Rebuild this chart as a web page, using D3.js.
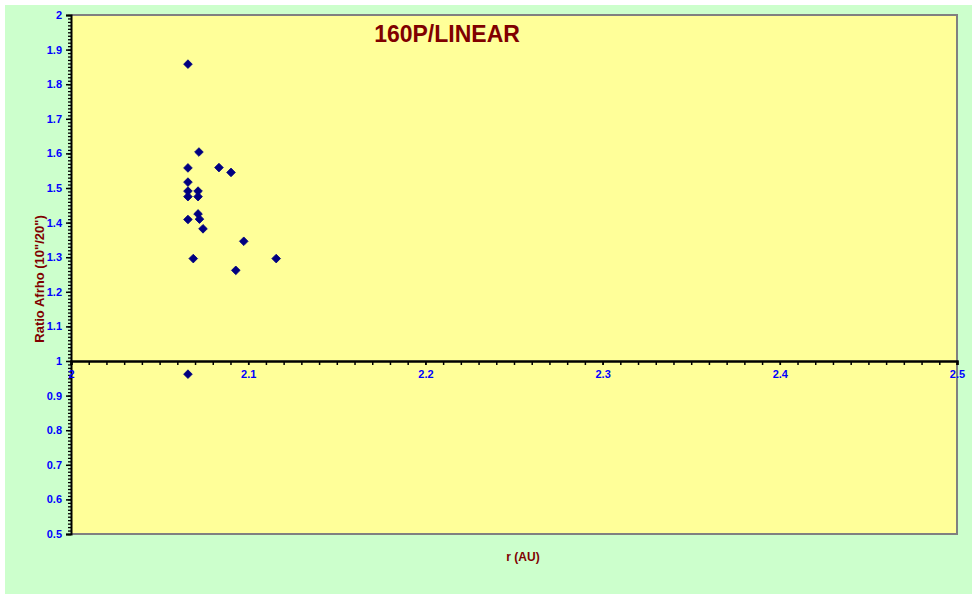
<!DOCTYPE html>
<html><head><meta charset="utf-8">
<script src="https://cdn.jsdelivr.net/npm/d3@7"></script>
<style>body{margin:0;background:#fff}svg{display:block}</style>
</head><body>
<script>
const rValues = [2.066, 2.0722, 2.066, 2.0835, 2.0903, 2.066, 2.066, 2.0717, 2.066, 2.0717, 2.0717, 2.0725, 2.066, 2.0745, 2.0975, 2.069, 2.1158, 2.093, 2.066];
const ratioValues = [1.858, 1.604, 1.558, 1.559, 1.545, 1.517, 1.491, 1.491, 1.475, 1.475, 1.425, 1.410, 1.409, 1.382, 1.346, 1.296, 1.296, 1.262, 0.962];
const xTicks = [2, 2.1, 2.2, 2.3, 2.4, 2.5];
const yTicks = [0.5, 0.6, 0.7, 0.8, 0.9, 1, 1.1, 1.2, 1.3, 1.4, 1.5, 1.6, 1.7, 1.8, 1.9, 2];
const title = "160P/LINEAR";
const xTitle = "r (AU)";
const yTitle = "Ratio Afrho (10\"/20\")";

const W = 976, H = 599;
const svg = d3.select("body").append("svg").attr("width", W).attr("height", H);
svg.append("rect").attr("x", 5).attr("y", 5).attr("width", 967).attr("height", 589).attr("fill", "#ccffcc");

const x = d3.scaleLinear().domain([2, 2.5]).range([71, 957]);
const y = d3.scaleLinear().domain([0.5, 2]).range([534, 15]);

svg.append("rect").attr("x", x(2)).attr("y", y(2)).attr("width", x(2.5) - x(2)).attr("height", y(0.5) - y(2)).attr("fill", "#ffff99");
svg.append("path").attr("d", `M${x(2)},${y(2)}H${x(2.5)}V${y(0.5)}H${x(2)}`).attr("fill", "none").attr("stroke", "#808080").attr("stroke-width", 2);

const font = "Liberation Sans, Arial, sans-serif";

const yMinor = d3.range(50, 201).map(v => v / 100);
const yAxisMinor = d3.axisLeft(y).tickValues(yMinor).tickSize(3).tickFormat("");
const gyMinor = svg.append("g").attr("transform", `translate(${x(2)},0)`).call(yAxisMinor);
gyMinor.select(".domain").remove();
gyMinor.selectAll("line").attr("stroke", "#000").attr("stroke-width", 1.3);

const yAxis = d3.axisLeft(y).tickValues(yTicks).tickSize(5).tickPadding(4).tickFormat(d3.format("~g"));
const gy = svg.append("g").attr("transform", `translate(${x(2)},0)`).call(yAxis);
gy.select(".domain").attr("stroke", "#000").attr("stroke-width", 2);
gy.selectAll("line").attr("stroke", "#000").attr("stroke-width", 1.5);
gy.selectAll("text").attr("fill", "#0000ff").attr("font-family", font).attr("font-weight", "bold").attr("font-size", 11);

const xMinor = d3.range(200, 251).map(v => v / 100);
const xAxisMinor = d3.axisBottom(x).tickValues(xMinor).tickSize(4).tickFormat("");
const gxMinor = svg.append("g").attr("transform", `translate(0,${y(1)})`).call(xAxisMinor);
gxMinor.select(".domain").remove();
gxMinor.selectAll("line").attr("stroke", "#000").attr("stroke-width", 1.5);

const xAxis = d3.axisBottom(x).tickValues(xTicks).tickSize(4).tickPadding(5).tickFormat(d3.format("~g"));
const gx = svg.append("g").attr("transform", `translate(0,${y(1)})`).call(xAxis);
gx.select(".domain").attr("stroke", "#000").attr("stroke-width", 2.5);
gx.selectAll("line").attr("stroke", "#000").attr("stroke-width", 1.5);
gx.selectAll("text").attr("fill", "#0000ff").attr("font-family", font).attr("font-weight", "bold").attr("font-size", 11);

const pts = rValues.map((r, i) => ({ r, v: ratioValues[i] }));
const sym = d3.symbol().type(d3.symbolDiamond2).size(48);
svg.append("g").selectAll("path").data(pts).join("path")
  .attr("transform", d => `translate(${x(d.r)},${y(d.v)})`)
  .attr("d", sym)
  .attr("fill", "#000080").attr("stroke", "#000080").attr("stroke-width", 0.8);

svg.append("text").attr("x", 447).attr("y", 42).attr("text-anchor", "middle")
  .attr("font-family", font).attr("font-weight", "bold").attr("font-size", 23).attr("fill", "#800000").text(title);
svg.append("text").attr("x", 523).attr("y", 561).attr("text-anchor", "middle")
  .attr("font-family", font).attr("font-weight", "bold").attr("font-size", 12).attr("fill", "#800000").text(xTitle);
svg.append("text").attr("transform", "translate(44,279) rotate(-90)").attr("text-anchor", "middle")
  .attr("font-family", font).attr("font-weight", "bold").attr("font-size", 13).attr("fill", "#800000").text(yTitle);
</script>
</body></html>
